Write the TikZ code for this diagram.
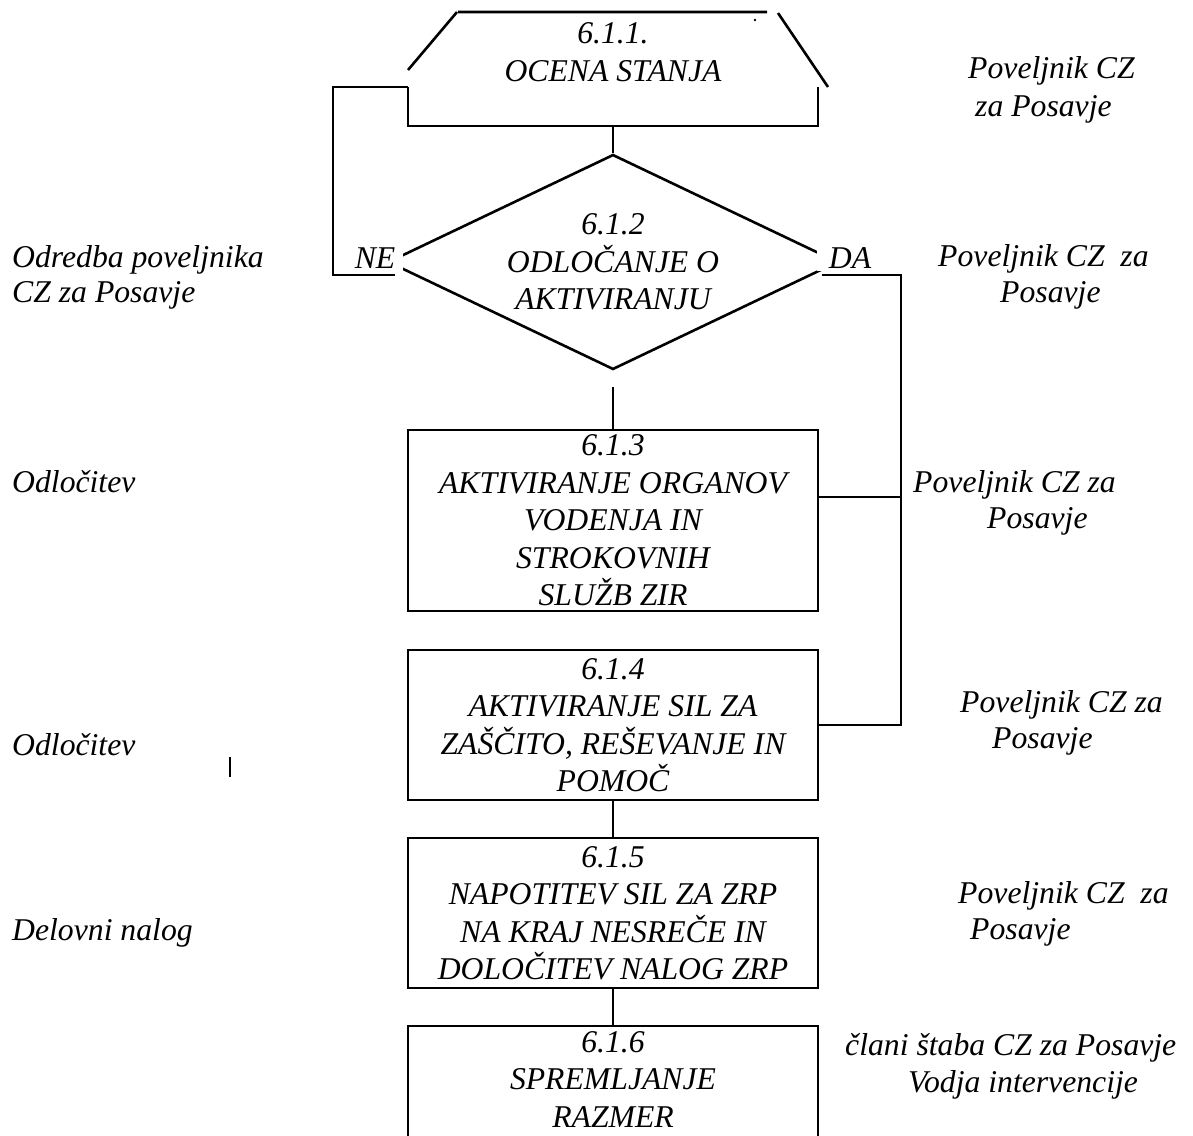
\documentclass[tikz,border=0pt]{standalone}
\usepackage{fontspec}
\setmainfont{Liberation Serif}
\usetikzlibrary{shapes.geometric}
\tikzset{
  crta/.style={line width=2.6pt},
  besedilo/.style={font=\itshape\fontsize{31.7}{37.5}\selectfont, inner sep=0pt, align=center},
  korak/.style={besedilo, draw, line width=2.6pt, minimum width=410pt},
  oznaka/.style={besedilo, anchor=base west}
}

\begin{document}
\begin{tikzpicture}[x=1pt, y=-1pt]
\newcommand{\sredina}{613}
\useasboundingbox (0,0) rectangle (1193,1135);
\clip (0,0) rectangle (1193,1135);
% 6.1.1 ocena stanja
\node[besedilo] (ocena) at (\sredina,52) {6.1.1.\\OCENA STANJA};
\draw[crta] (408,70) -- (457,12) (458,12) -- (767,12) (778,13) -- (828,87);
\draw[crta] (408,87) -- (408,126) -- (818,126) -- (818,87);
\fill (755,20) circle (1.3pt);
\coordinate (ocenaL) at (408,87);
\coordinate (ocenaB) at (\sredina,126);
% 6.1.2 odlocanje
\node[besedilo, draw, crta, shape=diamond, aspect=2, minimum width=450pt, minimum height=215pt] (odl) at (\sredina,262) {6.1.2\\ODLOČANJE O\\AKTIVIRANJU};
\node[besedilo, fill=white, inner xsep=8pt, inner ysep=3pt] (ne) at (375,258) {NE};
\node[besedilo, fill=white, inner xsep=12pt, inner ysep=3pt] (da) at (850,258) {DA};
% koraki
\node[korak, minimum height=181pt] (akt) at (\sredina,520.5) {6.1.3\\AKTIVIRANJE ORGANOV\\VODENJA IN\\STROKOVNIH\\SLUŽB ZIR};
\node[korak, minimum height=150pt] (sil) at (\sredina,725) {6.1.4\\AKTIVIRANJE SIL ZA\\ZAŠČITO, REŠEVANJE IN\\POMOČ};
\node[korak, minimum height=150pt] (nap) at (\sredina,913) {6.1.5\\NAPOTITEV SIL ZA ZRP\\NA KRAJ NESREČE IN\\DOLOČITEV NALOG ZRP};
\node[korak, minimum height=120pt, text depth=14pt] (spr) at (\sredina,1086) {6.1.6\\SPREMLJANJE\\RAZMER};
% povezave
\coordinate (ne1) at (395,275);
\coordinate (da1) at (822,275);
\coordinate (desno) at (901,275);
\coordinate (grana) at (901,497);
\coordinate (odlpod) at (\sredina,387);
\draw[crta] (ocenaB) -- (odl.north);
\draw[crta] (ocenaL) -- (333,87) |- (ne1);
\draw[crta] (da1) -- (desno) |- (sil.east);
\draw[crta] (grana) -- (grana -| akt.east);
\draw[crta] (odlpod) -- (akt.north);
\draw[crta] (sil.south) -- (nap.north);
\draw[crta] (nap.south) -- (spr.north);
\draw[line width=2pt] (230,757) -- (230,777);
% levi stolpec
\foreach \x/\y/\t [count=\i] in {12/267/Odredba poveljnika, 12/302/CZ za Posavje, 12/492/Odločitev, 12/755/Odločitev, 12/940/Delovni nalog} {
  \node[oznaka] (l\i) at (\x,\y) {\t};
}
% desni stolpec
\foreach \x/\y/\t [count=\i] in {968/78/Poveljnik CZ, 975/116/za Posavje, 938/266/Poveljnik CZ\ \ za, 1000/302/Posavje, 913/492/Poveljnik CZ za, 987/528/Posavje, 960/712/Poveljnik CZ za, 992/748/Posavje, 958/903/Poveljnik CZ\ \ za, 970/939/Posavje, 845/1055/člani štaba CZ za Posavje, 908/1092/Vodja intervencije} {
  \node[oznaka] (d\i) at (\x,\y) {\t};
}
\end{tikzpicture}
\end{document}
